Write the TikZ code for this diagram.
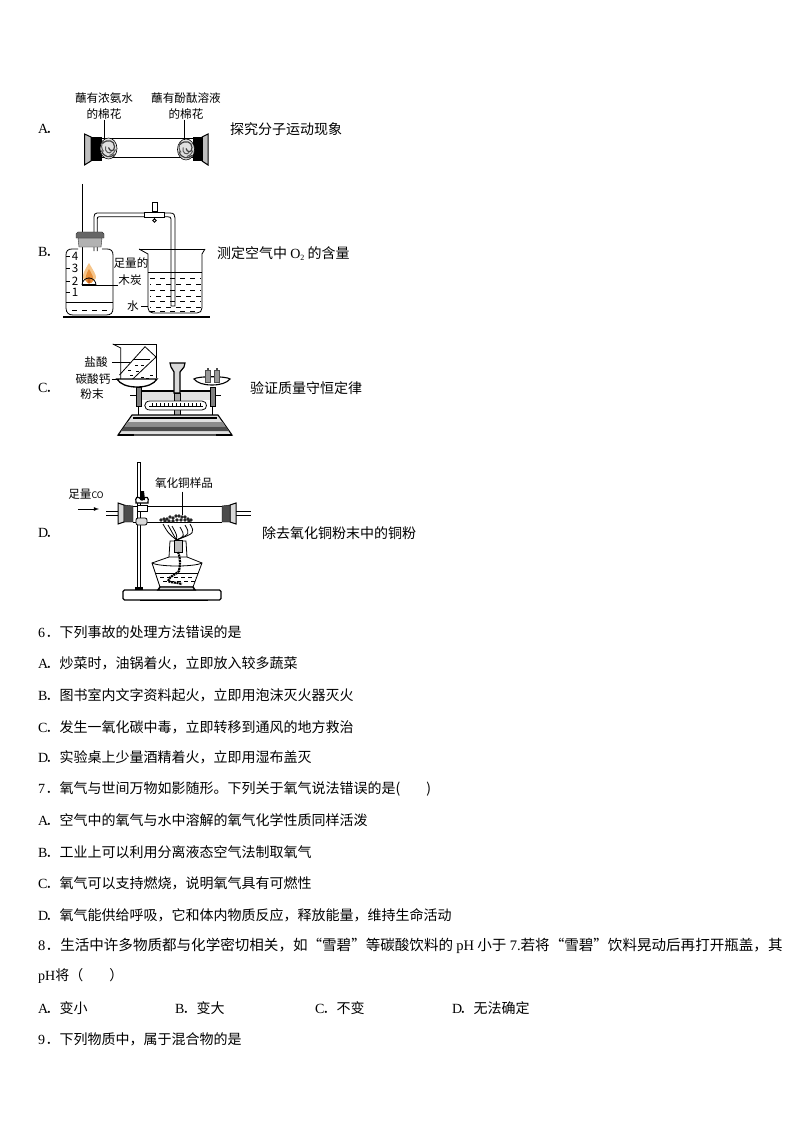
\documentclass[tikz,border=0pt]{standalone}
\usepackage{fontspec}
\setmainfont{Noto Sans CJK SC}
\newfontfamily\latinfont{Liberation Serif}
\newcommand{\optlabel}[1]{\makebox[7.5pt][l]{\latinfont #1}．}
\definecolor{flameout}{RGB}{246,197,138}
\definecolor{flamemid}{RGB}{232,144,58}
\definecolor{flamelow}{RGB}{200,100,30}
\newcommand{\cottonball}[2]{
	\draw[fill=black!12, line width=0.6pt] (#1,#2) ellipse (8.5 and 10.5);
	\draw[line width=1.2pt, black!75] (#1-6,#2-5) .. controls (#1-1,#2-10) and (#1+6,#2-8) .. (#1+6,#2-2) .. controls (#1+6,#2+4) and (#1+1,#2+3) .. (#1,#2-1);
	\draw[line width=1.2pt, black!75] (#1-7,#2+2) .. controls (#1-5,#2+9) and (#1+2,#2+10) .. (#1+6,#2+6);
	\draw[line width=1pt, black!65] (#1-3,#2-2) .. controls (#1-4,#2+4) and (#1+1,#2+6) .. (#1+3,#2+3);
	\draw[line width=1pt, black!65] (#1-5,#2-8) .. controls (#1-8,#2-3) and (#1-7,#2) .. (#1-5,#2+3);
	\draw[line width=1pt, black!65] (#1+7,#2+1) .. controls (#1+5,#2+5) and (#1+3,#2+7) .. (#1+1,#2+7);
}
\tikzset{
	plain/.style={inner sep=0pt, font=\fontsize{14}{14}\selectfont, anchor=west},
	tag/.style={inner sep=0pt, font=\fontsize{11.6}{12}\selectfont},
	hair/.style={line width=0.7pt},
	glass/.style={line width=0.8pt},
	water/.style={line width=0.6pt, dash pattern=on 5pt off 5pt}
}
\begin{document}
\begin{tikzpicture}[x=1pt, y=-1pt]
	\useasboundingbox[fill=white] (0,0) rectangle (794,1123);

	\node[plain] (optA) at (38,129) {\optlabel{A}};
	\node[plain] (aimA) at (230,129) {探究分子运动现象};
	\node[tag] (ammonia) at (104,98) {蘸有浓氨水};
	\node[tag] (ammoniab) at (104,114) {的棉花};
	\node[tag] (phenol) at (186,98) {蘸有酚酞溶液};
	\node[tag] (phenolb) at (186,114) {的棉花};
	\draw[glass] (91,138)--(202,138);
	\draw[glass] (91,157)--(202,157);
	\draw[fill=black!25, line width=1pt] (84.5,134)--(91,137)--(91,161)--(84.5,165)--cycle;
	\draw[fill=black] (91,137)--(101,137)--(101,160)--(91,160)--cycle;
	\draw[fill=black!25, line width=1pt] (208,134)--(202,137)--(202,161)--(208,165)--cycle;
	\draw[fill=black] (202,137)--(193,137)--(193,160)--(202,160)--cycle;
	\cottonball{108.5}{148.5}
	\cottonball{186}{149.5}
	\coordinate (ammoniaend) at (104,140);
	\coordinate (phenolend) at (184.5,140);
	\draw[hair] (ammoniab.south)--(ammoniaend);
	\draw[hair] (phenolb.south -| phenolend)--(phenolend);

	\node[plain] (optB) at (38,252) {\optlabel{B}};
	\node[plain] (aimB) at (217,254) {测定空气中 {\latinfont O\raisebox{-2pt}{\fontsize{8}{8}\selectfont 2}} 的含量};
	\node[tag] (charcoal) at (131,263) {足量的};
	\node[tag] (charcoalb) at (130,280) {木炭};
	\node[tag] (waterB) at (133,306) {水};
	\node[tag] at (75,256) (scalefour) {4};
	\node[tag] at (75,268) (scalethree) {3};
	\node[tag] at (75,281) (scaletwo) {2};
	\node[tag] at (75,292) (scaleone) {1};
	\draw[line width=2pt] (63,317)--(210,317);
	\draw[glass] (78,249)--(72,249) .. controls (68,249) and (66,251) .. (66,255)--(66,308) .. controls (66,313) and (69,315) .. (73,315)--(106,315) .. controls (111,315) and (113,313) .. (113,308)--(113,255) .. controls (113,251) and (111,249) .. (107,249)--(102,249);
	\draw[glass] (66,302)--(113,302);
	\draw[water] (72,310)--(110,310);
	\foreach \yy in {256,268,281,292}
		\draw[hair] (66,\yy)--(70,\yy);
	\draw[hair] (82,184)--(82,285);
	\draw[glass] (94,251)--(94,217) .. controls (94,214.5) and (95,213) .. (97,213)--(170,213) .. controls (174,213) and (175,215) .. (175,218)--(175,306)--(171,306)--(171,219) .. controls (171,217.5) and (170,216.8) .. (168,216.8)--(99,216.8) .. controls (97.5,216.8) and (97.3,217.5) .. (97.3,219)--(97.3,251);
	\draw[fill=black!30, draw=black!80] (78,238)--(102,238)--(101,247)--(79,247)--cycle;
	\draw[fill=black!60, draw=black!80] (76,234)--(78,232)--(102,232)--(104,234)--(104,238)--(76,238)--cycle;
	\draw[fill=white, glass] (144,212)--(164,212)--(164,217)--(144,217)--cycle;
	\draw[glass] (152,202)--(152,211)--(157,211)--(157,202)--cycle;
	\draw[glass] (154.5,217)--(154.5,220);
	\draw[glass] (154.5,220.5) circle (1.8);
	\fill[flameout] (89,263) .. controls (84,271) and (82.5,275) .. (83,278) .. controls (84,283) and (95,283) .. (96,278) .. controls (96.5,275) and (93,270) .. (89,263)--cycle;
	\fill[flamemid] (89,269) .. controls (86,274) and (85,278) .. (86,281) .. controls (87,284) and (92,284) .. (93,281) .. controls (94,278) and (92,274) .. (89,269)--cycle;
	\fill[flamelow] (89,277) .. controls (87,280) and (87,283) .. (89,284) .. controls (91,283) and (91,280) .. (89,277)--cycle;
	\draw[line width=1.6pt] (82,285)--(96,285);
	\draw[glass] (82,285) arc[start angle=180, end angle=360, radius=7];
	\coordinate (coalend) at (96,285);
	\draw[hair] (charcoalb.west |- coalend)--(coalend);
	\draw[glass] (139,249)--(205,249);
	\draw[glass] (139,249)--(148,254)--(148,308) .. controls (148,311) and (150,313) .. (153,313)--(197,313) .. controls (200,313) and (202,311) .. (202,308)--(202,254)--(205,249);
	\draw[glass] (148,272)--(202,272);
	\foreach \yy/\off in {278/0,284/4,290/0,296/4,301/0,307/4,311/0}
		\draw[water, dash phase=\off] (150,\yy)--(201,\yy);
	\coordinate (waterBend) at (148,306);
	\draw[hair] (waterB.east)++(2,0)--(waterBend);

	\node[plain] (optC) at (38,388) {\optlabel{C}};
	\node[plain] (aimC) at (250,388) {验证质量守恒定律};
	\node[tag] (acid) at (96,362) {盐酸};
	\node[tag] (calcium) at (93,379) {碳酸钙};
	\node[tag] (calciumb) at (92,394) {粉末};
	\draw[glass] (112.7,344)--(156,344)--(156,378);
	\draw[glass] (112.7,344)--(120.7,348)--(120.7,380);
	\draw[glass] (145,346.7)--(119.5,375);
	\draw[glass] (145,346.7)--(156,357);
	\draw[glass] (156,357)--(131.7,380);
	\draw[hair] (133,359)--(150,359);
	\foreach \xx/\yy in {135/365,141/365,128/370,136/371,130/375,141/377,146/378,150/375}
		\draw[line width=0.9pt] (\xx,\yy)--++(3,0);
	\coordinate (acidend) at (130,362);
	\coordinate (calciumend) at (127,379);
	\draw[hair] (acid.east)++(4,0)--(acidend);
	\draw[hair] (calcium.east)++(1,0)--(calciumend);
	\draw[fill=white, line width=1.3pt] (117,379) .. controls (120,384) and (127,387) .. (137,387) .. controls (147,387) and (154,384) .. (157,379)--cycle;
	\draw[fill=white, line width=1.1pt] (194,379) .. controls (197,383) and (204,385) .. (212,385) .. controls (220,385) and (227,383) .. (230,379) .. controls (227,376) and (197,376) .. (194,379)--cycle;
	\draw[fill=black!40, draw=black!70] (205,370)--(210,370)--(210,382)--(205,382)--cycle;
	\draw[fill=black!40, draw=black!70] (214,370)--(219,370)--(219,382)--(214,382)--cycle;
	\fill[black!70] (206.5,368)--(208.5,368)--(208.5,370)--(206.5,370)--cycle;
	\fill[black!70] (215.5,368)--(217.5,368)--(217.5,370)--(215.5,370)--cycle;
	\fill[black!12] (137,391)--(212,391)--(212,400)--(137,400)--cycle;
	\draw[line width=1.4pt] (137,391)--(212,391);
	\draw[line width=1.2pt, fill=black!15] (170,363)--(185,363)--(184,367)--(180,372)--(180,393)--(174,393)--(174,372)--(171,367)--cycle;
	\draw[fill=black!35] (174,393)--(180,393)--(180,415)--(174,415)--cycle;
	\draw[fill=white, glass] (150,401) .. controls (143,401) and (143,410) .. (150,410)--(202,410) .. controls (208,410) and (208,401) .. (202,401)--cycle;
	\foreach \xx in {152,156,...,200}
		\draw[line width=0.4pt] (\xx,403)--(\xx,405.5);
	\draw[line width=1pt] (149,406)--(203,406);
	\draw[fill=black!50] (136,387)--(141,387)--(141,406)--(136,406)--cycle;
	\draw[fill=black!50] (210,387)--(215,387)--(215,406)--(210,406)--cycle;
	\draw[line width=1.1pt] (138.5,406)--(138.5,415);
	\draw[line width=1.1pt] (212.5,406)--(212.5,415);
	\draw[line width=1pt] (130,395)--(136,395);
	\draw[line width=1pt] (215,395)--(221,395);
	\draw[line width=1.1pt, fill=black!12] (132,415)--(218,415)--(232,435)--(118,435)--cycle;
	\fill[black!45] (127.5,422)--(222.5,422)--(225.5,426.5)--(124.5,426.5)--cycle;
	\fill[black!70] (124.5,426.5)--(225.5,426.5)--(229,431)--(121,431)--cycle;
	\draw[line width=1.5pt] (133,418)--(217,418);
	\draw[line width=1.6pt] (118,435)--(134,435);
	\draw[line width=1.6pt] (216,435)--(232,435);

	\node[plain] (optD) at (38,533) {\optlabel{D}};
	\node[plain] (aimD) at (262,533) {除去氧化铜粉末中的铜粉};
	\node[tag] (sample) at (184,483) {氧化铜样品};
	\node[tag] (coin) at (86,494) {足量{\fontsize{9}{9}\selectfont CO}};
	\coordinate (arrowstart) at (78,509);
	\coordinate (arrowend) at (99,509);
	\coordinate (sampleend) at (182,515);
	\draw[-latex, line width=0.8pt] (arrowstart)--(arrowend);
	\draw[hair] (sample.south -| sampleend)++(0,3)--(sampleend);
	\draw[glass] (137,462)--(137,587);
	\draw[glass] (140,462)--(140,587);
	\draw[glass] (137,462)--(140,462);
	\draw[fill=black] (135,587)--(142,587)--(142,590)--(135,590)--cycle;
	\draw[line width=1.1pt, fill=white, rounded corners=1.5pt] (123,590)--(221,590)--(221,600)--(123,600)--cycle;
	\draw[line width=1.6pt] (140,600.5)--(208,600.5);
	\draw[glass] (133,506)--(222,506);
	\draw[glass] (133,522)--(222,522);
	\draw[glass] (106,511)--(118,511);
	\draw[glass] (106,515)--(118,515);
	\draw[glass] (236,511)--(251,511);
	\draw[glass] (236,515)--(251,515);
	\draw[line width=1pt, fill=black!15] (118,503)--(124,505)--(124,522)--(118,524)--cycle;
	\draw[fill=black!70] (124,505)--(133,506)--(133,522)--(124,522)--cycle;
	\draw[line width=1pt, fill=black!15] (236,503)--(230,505)--(230,522)--(236,524)--cycle;
	\draw[fill=black!70] (230,505)--(222,506)--(222,522)--(230,522)--cycle;
	\draw[glass, fill=white] (137,505)--(147,505)--(147,511)--(137,511)--cycle;
	\draw[glass, fill=black!15, rounded corners=2pt] (136,518)--(147,518)--(147,525)--(136,525)--cycle;
	\draw[line width=1.2pt, fill=white] (136,503) .. controls (135,497) and (137,495) .. (142,500) .. controls (147,495) and (149,497) .. (148,503)--cycle;
	\fill (140,491)--(144,491)--(145,500)--(140,500)--cycle;
	\foreach \xx/\yy in {161/520,164/519,167/519,170/517,173/518,176/516,179/516,182/517,185/517,188/519,191/520,165/521,169/521,173/521,177/520,181/520,185/520,189/521}
		\fill[black!85] (\xx,\yy) circle (1.9);
	\foreach \xx/\yy in {163/526,168/527,172/528,190/526,185/527,180/529}
		\draw[line width=0.8pt] (176.5,540) .. controls (\xx+5,\yy+7) .. (\xx,\yy-2);
	\draw[glass, fill=white] (170,541)--(186,541)--(187,557)--(169,557)--cycle;
	\draw[line width=1pt, fill=black!25] (174,540)--(182,540)--(182,552)--(174,552)--cycle;
	\draw[glass] (169,557)--(152,563)--(160,587)--(193,587)--(202,563)--(187,557);
	\draw[glass] (152,563) .. controls (160,567) and (194,567) .. (202,563);
	\draw[glass] (156,573)--(198,573);
	\foreach \yy/\off in {577/0,581/4}
		\draw[line width=0.6pt, dash pattern=on 4pt off 3pt, dash phase=\off] (160,\yy)--(195,\yy);
	\draw[line width=2.2pt, dash pattern=on 2pt off 0.7pt] (178,552) .. controls (181,560) and (180,565) .. (179,571) .. controls (176,575) and (170,575) .. (168,581) .. controls (171,583) and (176,582) .. (182,584);
	\draw[line width=1.4pt, fill=black!15] (160,587)--(193,587)--(195,590)--(158,590)--cycle;

	\node[plain] (q6) at (38,632) {\optlabel{6}下列事故的处理方法错误的是};
	\node[plain] (q6a) at (38,663) {\optlabel{A}炒菜时，油锅着火，立即放入较多蔬菜};
	\node[plain] (q6b) at (38,695.5) {\optlabel{B}图书室内文字资料起火，立即用泡沫灭火器灭火};
	\node[plain] (q6c) at (38,727) {\optlabel{C}发生一氧化碳中毒，立即转移到通风的地方救治};
	\node[plain] (q6d) at (38,757.5) {\optlabel{D}实验桌上少量酒精着火，立即用湿布盖灭};
	\node[plain] (q7) at (38,789) {\optlabel{7}氧气与世间万物如影随形。下列关于氧气说法错误的是(\hspace{26pt})};
	\node[plain] (q7a) at (38,820) {\optlabel{A}空气中的氧气与水中溶解的氧气化学性质同样活泼};
	\node[plain] (q7b) at (38,852) {\optlabel{B}工业上可以利用分离液态空气法制取氧气};
	\node[plain] (q7c) at (38,883) {\optlabel{C}氧气可以支持燃烧，说明氧气具有可燃性};
	\node[plain] (q7d) at (38,915) {\optlabel{D}氧气能供给呼吸，它和体内物质反应，释放能量，维持生命活动};
	\node[plain, font=\fontsize{14.55}{15}\selectfont] (q8) at (38,946) {\optlabel{8}生活中许多物质都与化学密切相关，如“雪碧”等碳酸饮料的 {\latinfont pH} 小于 {\latinfont 7.}若将“雪碧”饮料晃动后再打开瓶盖，其};
	\node[plain] (q8b) at (38,976) {{\latinfont pH}将（\hspace{26pt}）};
	\node[plain] (q8optA) at (38,1008) {\optlabel{A}变小};
	\node[plain] (q8optB) at (175,1008) {\optlabel{B}变大};
	\node[plain] (q8optC) at (315,1008) {\optlabel{C}不变};
	\node[plain] (q8optD) at (452,1008) {\optlabel{D}无法确定};
	\node[plain] (q9) at (38,1039) {\optlabel{9}下列物质中，属于混合物的是};
\end{tikzpicture}
\end{document}
